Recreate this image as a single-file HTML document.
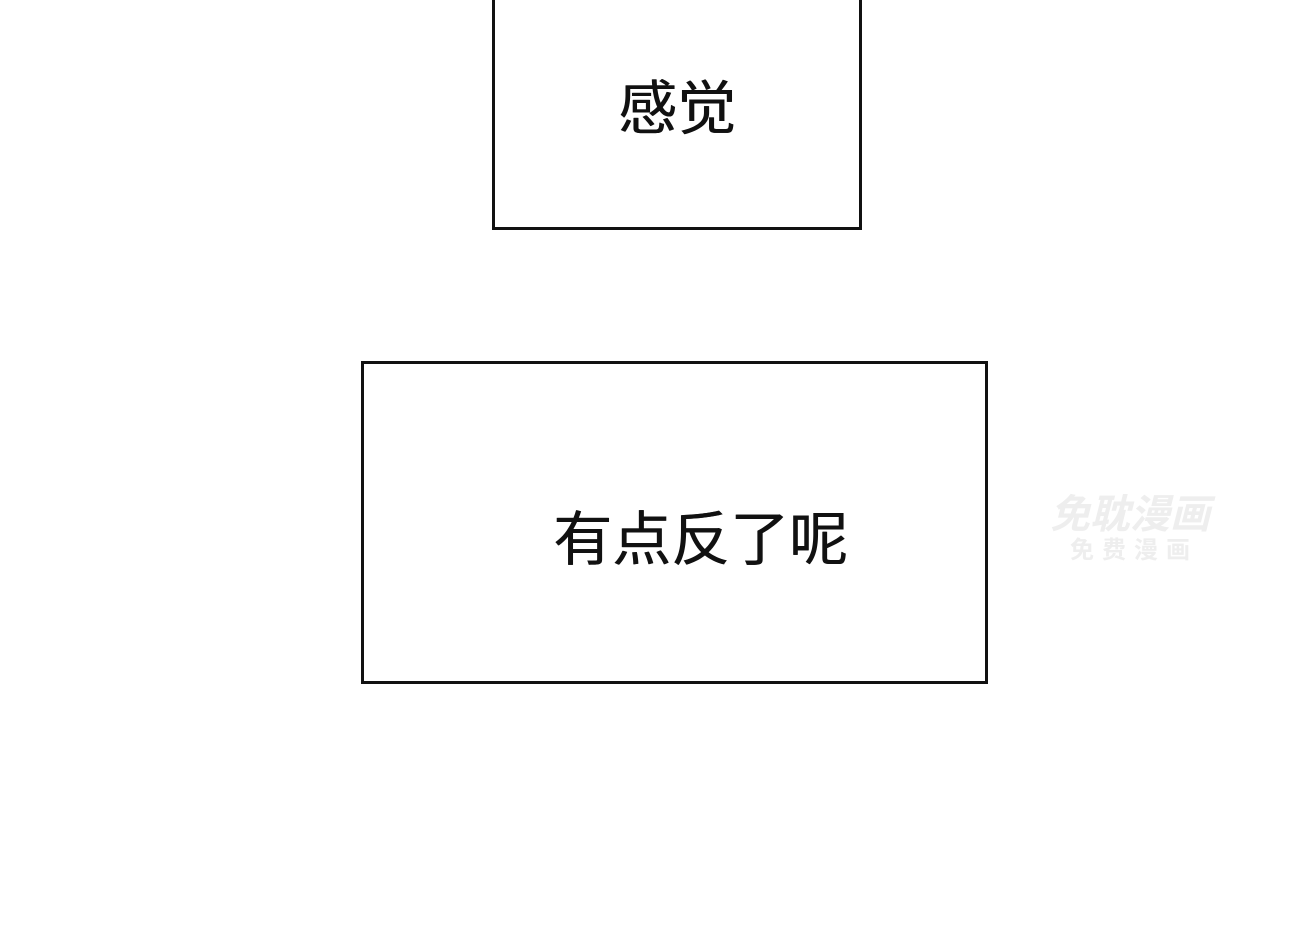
<!DOCTYPE html>
<html><head><meta charset="utf-8"><style>
body{margin:0;width:1300px;height:949px;background:#fff;position:relative;overflow:hidden;font-family:"Liberation Sans","Noto Sans CJK SC",sans-serif;}
.b{position:absolute;border:3px solid #111;box-sizing:border-box;background:#fff}
.t{position:absolute;font-size:59px;color:#111;line-height:1;white-space:nowrap;text-shadow:0.6px 0 0 #111}
.w{position:absolute;color:#eee;font-weight:bold;white-space:nowrap}
</style></head><body>
<div class="b" style="left:492px;top:-5px;width:370px;height:235px"></div>
<div class="t" style="left:618px;top:80px">感觉</div>
<div class="b" style="left:361px;top:361px;width:627px;height:323px"></div>
<div class="t" style="left:553px;top:511px">有点反了呢</div>
<div class="w" style="left:1050px;top:482px;font-size:40px;font-style:italic">免耽漫画</div>
<div class="w" style="left:1070px;top:530px;font-size:24px;letter-spacing:8px">免费漫画</div>
</body></html>
